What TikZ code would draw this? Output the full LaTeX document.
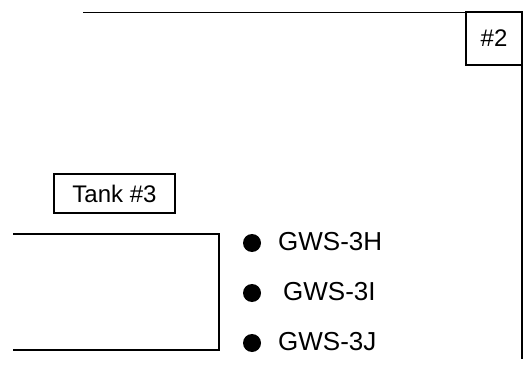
\documentclass[tikz,border=0pt]{standalone}
\usepackage{fontspec}
\setmainfont{Liberation Sans}
\begin{document}
\begin{tikzpicture}[x=1pt,y=-1pt,
  wall/.style={line width=1.8pt},
  lbl/.style={draw,line width=1.5pt,inner sep=0pt,font=\fontsize{24}{27}\selectfont},
  well/.style={circle,fill=black,inner sep=0pt,minimum size=18pt},
  wtxt/.style={anchor=west,inner sep=0pt,font=\fontsize{26}{29}\selectfont}]
\useasboundingbox (0,0) rectangle (524,371);
% Tank #2 outline
\coordinate (t2a) at (83,12.5);
\coordinate (t2b) at (522,12.5);
\coordinate (t2c) at (522,359);
\node[lbl,minimum width=56pt,minimum height=53pt] (n2) at (494,38.5) {\#2};
\draw[wall] (t2a) -- (t2b) -- (t2c);
% Tank #3 outline
\coordinate (t3a) at (13,234);
\coordinate (t3b) at (219,234);
\coordinate (t3c) at (219,350);
\coordinate (t3d) at (13,350);
\draw[wall] (t3a) -- (t3b) -- (t3c) -- (t3d);
\node[lbl,minimum width=121pt,minimum height=39pt] (n3) at (114.5,193.5) {Tank \#3};
% wells
\node[well] (w1) at (252,243) {};
\node[well] (w2) at (252,293) {};
\node[well] (w3) at (252,343) {};
\node[wtxt] (l1) at (278,242) {GWS-3H};
\node[wtxt] (l2) at (283,292) {GWS-3I};
\node[wtxt] (l3) at (278,342) {GWS-3J};
\end{tikzpicture}
\end{document}
